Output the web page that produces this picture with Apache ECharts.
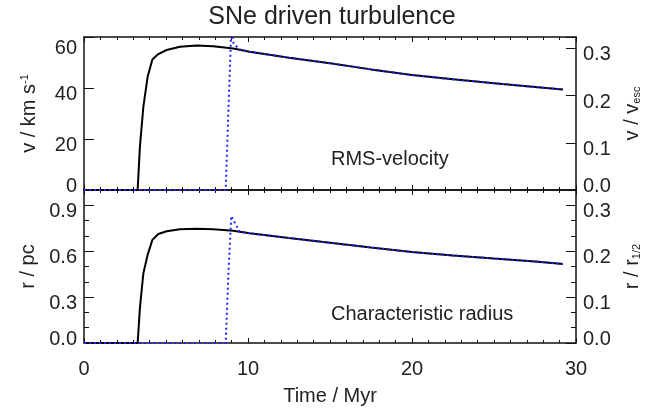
<!DOCTYPE html>
<html>
<head>
<meta charset="utf-8">
<script src="https://cdn.jsdelivr.net/npm/echarts@6/dist/echarts.min.js"></script>
<style>
  html, body { margin: 0; padding: 0; background: #fff; }
  #chart { width: 664px; height: 416px; }
</style>
</head>
<body>
<div id="chart"></div>
<script>
// time axis of the solid curves (Myr)
var timeMyr = [0, 3.27, 3.41, 3.62, 3.88, 4.17, 4.53, 5.04, 5.85, 6.87, 7.88, 9.1, 9.5, 10.1, 12.5, 15, 17.5, 20, 22.5, 25, 27.5, 29.2];
// RMS velocity, km/s
var rmsVel = [0, 0, 17, 32.7, 44.4, 51.2, 53.3, 54.9, 56.2, 56.7, 56.4, 55.5, 55.0, 54.2, 51.9, 49.7, 47.3, 45.1, 43.4, 41.9, 40.4, 39.4];
// characteristic radius, pc
var charRad = [0, 0, 0.23, 0.456, 0.576, 0.674, 0.712, 0.73, 0.743, 0.747, 0.743, 0.734, 0.727, 0.717, 0.686, 0.655, 0.624, 0.594, 0.572, 0.552, 0.533, 0.517];

// dotted (blue) run
var timeDot = [0, 8.64, 8.8, 8.98, 9.12, 9.5, 10.1, 12.5, 15, 17.5, 20, 22.5, 25, 27.5, 29.2];
var rmsVelDot = [0, 0, 30, 63, 57.5, 55.0, 54.2, 51.9, 49.7, 47.3, 45.1, 43.4, 41.9, 40.4, 39.4];
var charRadDot = [0, 0, 0.44, 0.83, 0.80, 0.727, 0.717, 0.686, 0.655, 0.624, 0.594, 0.572, 0.552, 0.533, 0.517];

var vEsc = 185;   // km/s
var rHalf = 3;    // pc

var FONT = 'Liberation Sans, Arial, Helvetica, sans-serif';
var TXT = '#222';

function pairs(xs, ys) {
    var out = [];
    for (var i = 0; i < xs.length; i++) out.push([xs[i], ys[i]]);
    return out;
}

// label shifts copied from the original (labels sit a bit below their tick, end labels pulled in)
var labelRich = {
    n:  { fontSize: 20, fontFamily: FONT, color: TXT, padding: [13, 0, 0, 0] },
    lo: { fontSize: 20, fontFamily: FONT, color: TXT, padding: [0, 0, 7, 0] },
    hi: { fontSize: 20, fontFamily: FONT, color: TXT, padding: [23, 0, 0, 0] }
};
function isStep(v, step) {
    var k = v / step;
    return Math.abs(k - Math.round(k)) < 1e-6;
}
function fmt(step, digits, topVal) {
    return function (v) {
        if (!isStep(v, step)) return '';
        var s = v.toFixed(digits);
        if (Math.abs(v) < 1e-9) return '{lo|' + s + '}';
        if (topVal !== undefined && Math.abs(v - topVal) < 1e-9) return '{hi|' + s + '}';
        return '{n|' + s + '}';
    };
}

var lineCol = { color: '#111', width: 1.5 };

function xAx(grid, pos, labels) {
    var a = {
        type: 'value', gridIndex: grid, position: pos,
        min: 0, max: 30, interval: 10,
        axisLine: { show: true, onZero: false, lineStyle: lineCol },
        axisTick: { show: true, inside: true, length: 5, lineStyle: { color: '#111', width: 1 } },
        minorTick: { show: true, splitNumber: 10, length: 3, lineStyle: { color: '#111', width: 1 } },
        splitLine: { show: false },
        axisLabel: { show: labels, margin: 16, fontSize: 20, fontFamily: FONT, color: TXT }
    };
    if (labels) {
        a.name = 'Time / Myr';
        a.nameLocation = 'middle';
        a.nameGap = 43;
        a.nameTextStyle = { fontSize: 20, fontFamily: FONT, color: TXT };
    }
    return a;
}

function yAx(grid, pos, max, step, digits, name, minor, topVal) {
    return {
        type: 'value', gridIndex: grid, position: pos,
        min: 0, max: max, interval: step,
        axisLine: { show: true, onZero: false, lineStyle: lineCol },
        axisTick: { show: true, inside: true, length: 10, lineStyle: { color: '#111', width: 1 } },
        minorTick: { show: minor, splitNumber: 3, length: 5, lineStyle: { color: '#111', width: 1 } },
        splitLine: { show: false },
        axisLabel: { margin: 7, formatter: fmt(step, digits, topVal), rich: labelRich },
        name: name,
        nameLocation: 'middle',
        nameRotate: 90,
        nameGap: pos === 'left' ? 45 : 46,
        nameTextStyle: {
            fontSize: 20, fontFamily: FONT, color: TXT,
            rich: {
                sup: { fontSize: 11, fontFamily: FONT, color: TXT, verticalAlign: 'top' },
                sub: { fontSize: 11, fontFamily: FONT, color: TXT, verticalAlign: 'bottom' }
            }
        }
    };
}

var chart = echarts.init(document.getElementById('chart'), null, { renderer: 'canvas' });

var option = {
    animation: false,
    backgroundColor: '#fff',
    title: {
        text: 'SNe driven turbulence',
        left: 'center',
        top: 0,
        textStyle: { fontSize: 25, fontWeight: 'normal', fontFamily: FONT, color: TXT }
    },
    grid: [
        { left: 84, right: 88, top: 37, height: 153 },
        { left: 84, right: 88, top: 190, height: 153 }
    ],
    xAxis: [
        xAx(0, 'bottom', false),
        xAx(0, 'top', false),
        xAx(1, 'top', false),
        xAx(1, 'bottom', true)
    ],
    yAxis: [
        yAx(0, 'left', 60, 20, 0, 'v / km s{sup|-1}', false, 60),
        yAx(0, 'right', 60 / vEsc, 0.1, 1, 'v / v{sub|esc}', false),
        yAx(1, 'left', 1.0, 0.3, 1, 'r / pc', true),
        yAx(1, 'right', 1.0 / rHalf, 0.1, 1, 'r / r{sub|1/2}', true)
    ],
    graphic: [
        { type: 'text', left: 331, top: 149, style: { text: 'RMS-velocity', font: '20px ' + FONT, fill: TXT } },
        { type: 'text', left: 331, top: 304, style: { text: 'Characteristic radius', font: '20px ' + FONT, fill: TXT } }
    ],
    series: [
        {
            type: 'line', xAxisIndex: 0, yAxisIndex: 0,
            data: pairs(timeMyr, rmsVel),
            showSymbol: false, smooth: false,
            lineStyle: { color: '#000', width: 2 }
        },
        {
            type: 'line', xAxisIndex: 0, yAxisIndex: 0,
            data: pairs(timeDot, rmsVelDot),
            showSymbol: false, smooth: false,
            lineStyle: { color: '#2222ff', width: 2, type: [2, 3] }
        },
        {
            type: 'line', xAxisIndex: 3, yAxisIndex: 2,
            data: pairs(timeMyr, charRad),
            showSymbol: false, smooth: false,
            lineStyle: { color: '#000', width: 2 }
        },
        {
            type: 'line', xAxisIndex: 3, yAxisIndex: 2,
            data: pairs(timeDot, charRadDot),
            showSymbol: false, smooth: false,
            lineStyle: { color: '#2222ff', width: 2, type: [2, 3] }
        }
    ]
};
chart.setOption(option);
</script>
</body>
</html>
